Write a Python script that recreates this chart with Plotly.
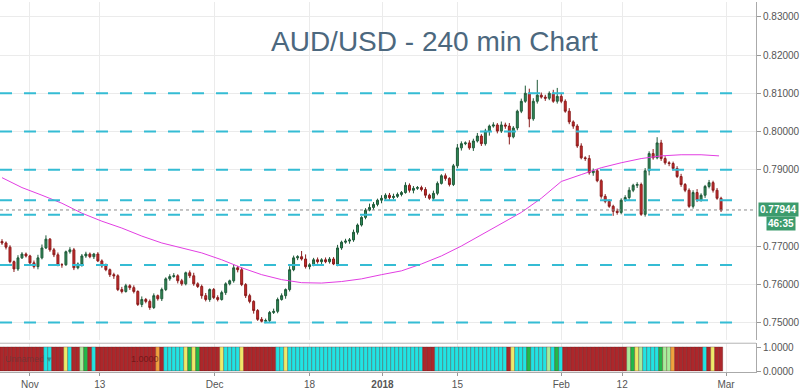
import plotly.graph_objects as go

# ---------------- data (prices in pips, 1 pip = 0.0001) ----------------
first_open = 7712
closes = [
    7708,7697,7659,7640,7669,7679,7674,7656,7646,7669,7695,7718,7690,7677,7651,7651,7685,7690,7643,7653,
    7674,7679,7672,7679,7661,7648,7638,7625,7622,7586,7581,7596,7591,7581,7547,7560,7555,7539,7570,7562,
    7586,7614,7620,7622,7609,7601,7630,7622,7601,7594,7570,7560,7586,7565,7560,7578,7601,7609,7643,7638,
    7599,7570,7555,7531,7508,7503,7505,7526,7529,7560,7570,7586,7638,7669,7672,7666,7646,7651,7664,7659,
    7664,7659,7666,7653,7695,7710,7713,7716,7736,7755,7775,7794,7801,7809,7820,7825,7833,7827,7830,7835,
    7840,7859,7846,7851,7853,7848,7833,7825,7838,7864,7884,7877,7861,7910,7957,7968,7970,7957,7975,7988,
    7968,8001,8014,8017,8001,8017,8014,7986,8009,8053,8079,8100,8033,8079,8095,8090,8087,8100,8079,8092,
    8079,8053,8025,8014,7962,7931,7929,7892,7897,7871,7830,7817,7804,7791,7788,7820,7827,7846,7859,7861,
    7783,7897,7942,7931,7970,7929,7918,7916,7903,7882,7861,7846,7804,7840,7820,7833,7856,7866,7846,7825,
    7794,
]
wick_up = [
    6,4,5,3,7,5,4,3,6,8,9,10,3,5,6,4,3,7,5,4,
    5,6,4,3,5,4,6,3,5,4,7,5,4,6,3,8,4,5,6,3,
    5,4,6,7,4,5,3,6,8,4,5,7,3,4,6,5,4,3,9,5,
    6,4,5,3,4,6,5,4,7,5,6,3,9,6,4,15,12,4,5,6,
    4,6,5,5,8,4,6,5,7,4,3,5,10,6,4,8,5,6,7,5,
    4,8,5,6,4,5,6,4,7,5,4,6,3,5,10,6,4,7,6,8,
    5,6,4,7,5,9,6,8,5,4,7,20,12,8,40,7,6,5,9,22,
    6,5,8,4,5,7,4,9,6,5,4,6,5,4,7,5,6,8,4,6,
    5,7,6,12,15,8,6,4,5,6,7,4,5,6,9,5,4,7,5,6,
    4,
]
wick_dn = [
    5,6,4,8,5,3,4,6,5,7,4,3,5,6,4,8,3,5,6,4,
    7,5,4,6,3,5,4,6,8,4,5,3,6,5,4,7,5,6,4,5,
    6,4,5,3,7,5,4,6,5,4,8,5,6,4,5,3,6,4,5,7,
    4,6,5,8,4,3,5,6,4,5,3,8,5,4,6,4,5,7,4,5,
    6,4,5,3,6,5,4,7,5,6,4,5,3,6,5,8,4,6,5,4,
    5,3,6,8,4,5,7,4,6,5,3,6,5,4,6,7,4,5,8,4,
    6,5,12,4,6,5,7,20,4,6,5,4,22,5,6,4,7,5,4,6,
    5,4,6,7,5,4,6,5,8,4,6,5,4,12,6,5,4,6,5,7,
    4,6,12,5,4,6,5,7,5,4,6,5,4,6,5,4,7,5,6,4,
    5,
]
# 200-period moving average (sampled every 5 bars, last point at bar 179.5)
ma_idx = list(range(0, 180, 5)) + [179.5]
ma_vals = [7879,7853,7833,7812,7786,7765,7747,7726,7708,7695,7682,7664,7643,7625,7612,7604,7603,7607,
           7614,7625,7635,7653,7674,7700,7729,7760,7788,7825,7869,7887,7905,7918,7929,7936,7939,7939,7936]
levels = [0.8100, 0.8000, 0.7900, 0.7820, 0.7782, 0.7650, 0.7500]
last_price = 0.77944
countdown = "46:35"
tick_idx = [7, 24.5, 53.25, 77, 95.25, 114, 140, 155.25, 181.25]
tick_text = ["Nov", "13", "Dec", "18", "<b>2018</b>", "15", "Feb", "12", "Mar"]
price_ticks = [0.75, 0.76, 0.77, 0.79, 0.80, 0.81, 0.82, 0.83]
# indicator state runs (code, number of bars)
state_runs = [("R",11),("C",2),("R",3),("Y",1),("C",1),("R",2),("L",1),("G",1),("R",1),("C",1),
              ("R",15),("O",1),("R",1),("C",5),("Y",1),("G",1),("Y",1),("G",1),("R",5),("Y",1),
              ("C",4),("Y",1),("R",8),("C",2),("Y",1),("C",34),("R",3),("C",18),("R",1),("Y",1),
              ("C",3),("G",1),("C",4),("L",1),("C",1),("G",1),("C",1),("R",16),("L",1),("G",1),
              ("Y",1),("L",1),("C",4),("G",1),("L",2),("O",1),("R",7),("C",1),("R",1),("Y",1),("R",2)]
state_colors = {"R": "#ad272b", "C": "#22e3e3", "Y": "#eeea6a", "G": "#22b84a",
                "L": "#a8ec9c", "O": "#efa23e"}

# ---------------- build ----------------
n = len(closes)
idx = list(range(n))
opens = [first_open] + closes[:-1]
highs = [(max(o, c) + w) / 10000 for o, c, w in zip(opens, closes, wick_up)]
lows = [(min(o, c) - w) / 10000 for o, c, w in zip(opens, closes, wick_dn)]
o_p = [v / 10000 for v in opens]
c_p = [v / 10000 for v in closes]
states = "".join(code * k for code, k in state_runs)
bar_cols = [state_colors[s] for s in states[:n]]

fig = go.Figure()
fig.add_trace(go.Candlestick(
    x=idx, open=o_p, high=highs, low=lows, close=c_p,
    increasing=dict(line=dict(color="#1f5a39", width=1), fillcolor="#2f8a58"),
    decreasing=dict(line=dict(color="#8a1c1c", width=1), fillcolor="#cc2a2a"),
    whiskerwidth=0, xaxis="x", yaxis="y", showlegend=False, hoverinfo="skip"))
fig.add_trace(go.Scatter(
    x=ma_idx, y=[v / 10000 for v in ma_vals], mode="lines",
    line=dict(color="#e23ee2", width=1), xaxis="x", yaxis="y",
    showlegend=False, hoverinfo="skip"))
fig.add_trace(go.Bar(
    x=idx[:len(bar_cols)], y=[1] * len(bar_cols), marker_color=bar_cols, width=1,
    marker_line=dict(color="rgba(70,0,0,0.45)", width=0.6),
    xaxis="x2", yaxis="y2", showlegend=False, hoverinfo="skip"))

xmax = 188.75
shapes = []
for lv in levels:
    shapes.append(dict(type="line", xref="x", yref="y", x0=-0.5, x1=185.75, y0=lv, y1=lv,
                       line=dict(color="#35bcd4", width=2, dash="12px,12px"), layer="above"))
shapes.append(dict(type="line", xref="x", yref="y", x0=-0.5, x1=xmax, y0=last_price, y1=last_price,
                   line=dict(color="#8a8a8a", width=1, dash="dot"), layer="above"))
H = 373.0
main_bot = (H - 341) / H
ind_top = (H - 344) / H
shapes.append(dict(type="line", xref="paper", yref="paper", x0=0, x1=1, y0=ind_top, y1=ind_top,
                   line=dict(color="#b5b5b5", width=1)))

axis_font = dict(family="Liberation Sans, Arial, sans-serif", size=10, color="#555555")
fig.update_layout(
    width=800, height=390, margin=dict(l=0, r=43, t=0, b=17),
    paper_bgcolor="white", plot_bgcolor="white", bargap=0,
    shapes=shapes,
    xaxis=dict(domain=[0, 1], anchor="y", range=[-0.5, xmax], rangeslider=dict(visible=False),
               tickvals=tick_idx, ticktext=tick_text, showticklabels=False,
               showgrid=True, gridcolor="#ebebeb", zeroline=False, ticks=""),
    xaxis2=dict(domain=[0, 1], anchor="y2", matches="x", range=[-0.5, xmax],
                tickvals=tick_idx, ticktext=tick_text, tickfont=axis_font,
                showgrid=True, gridcolor="#ebebeb", zeroline=False,
                ticks="outside", ticklen=3, tickcolor="#999", showline=True, linecolor="#aaaaaa"),
    yaxis=dict(domain=[main_bot, 1], anchor="x", side="right",
               range=[0.83 - (341 - 15) / 3850, 0.83 + 15 / 3850],
               tickvals=price_ticks, tickformat=".5f", tickfont=axis_font,
               showgrid=True, gridcolor="#ebebeb", zeroline=False,
               ticks="outside", ticklen=4, tickcolor="#999", showline=True, linecolor="#aaaaaa"),
    yaxis2=dict(domain=[0, ind_top], anchor="x2", side="right",
                range=[-0.042, 1 + 4 / 24], tickvals=[0, 1], ticktext=["0.0000", "1.0000"],
                tickfont=axis_font, showgrid=False, zeroline=False,
                ticks="outside", ticklen=4, tickcolor="#999", showline=True, linecolor="#aaaaaa"),
    annotations=[
        dict(text="AUD/USD - 240 min Chart", xref="paper", yref="paper",
             x=435 / 757, y=(H - 40) / H, xanchor="center", yanchor="middle", showarrow=False,
             font=dict(family="Liberation Sans, Arial, sans-serif", size=28, color="#4c687e")),
        dict(text="<b>%.5f</b>" % last_price, xref="paper", yref="y", x=1, y=last_price,
             xanchor="left", yanchor="middle", xshift=2, showarrow=False,
             bgcolor="#3c9b6d", borderpad=1,
             font=dict(family="Liberation Sans, Arial, sans-serif", size=10, color="white")),
        dict(text="<b>%s</b>" % countdown, xref="paper", yref="y", x=1, y=last_price,
             xanchor="right", yanchor="middle", xshift=40, yshift=-14, showarrow=False,
             bgcolor="#3c9b6d", borderpad=1,
             font=dict(family="Liberation Sans, Arial, sans-serif", size=10, color="white")),
        dict(text="Unnamed ▾", xref="paper", yref="y2", x=0.004, y=0.5, xanchor="left",
             yanchor="middle", showarrow=False,
             font=dict(family="Liberation Sans, Arial, sans-serif", size=9,
                       color="rgba(60,60,60,0.45)")),
        dict(text="1.0000", xref="paper", yref="y2", x=145 / 757, y=0.5, xanchor="center",
             yanchor="middle", showarrow=False,
             font=dict(family="Liberation Sans, Arial, sans-serif", size=9,
                       color="rgba(90,15,15,0.7)")),
    ],
)

fig.write_html("out.html", config={"displayModeBar": False},
               post_script="document.body.style.margin='0';document.body.style.padding='0';")
